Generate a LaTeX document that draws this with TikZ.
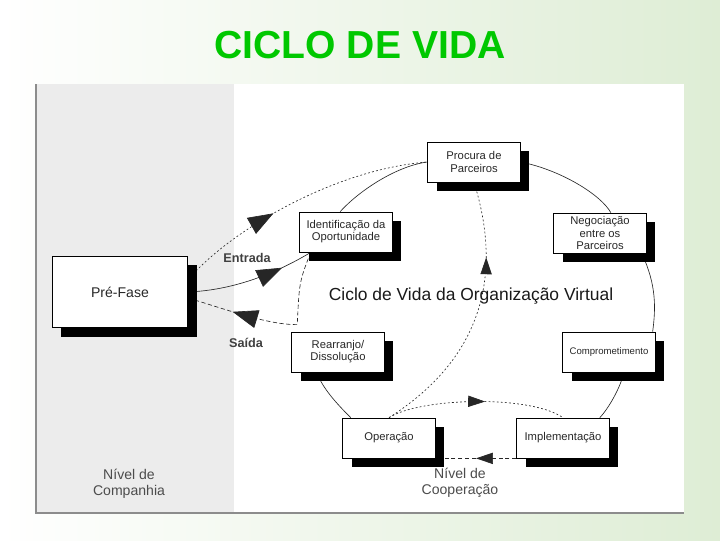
\documentclass[tikz,border=0pt]{standalone}
\usepackage{fontspec}
\setmainfont{Liberation Sans}
\usetikzlibrary{arrows.meta, decorations.markings, shadows, backgrounds}
\definecolor{ciclotitulo}{RGB}{0,200,0}
\definecolor{ciclofundo}{RGB}{222,237,213}
\definecolor{cicloempresa}{RGB}{236,236,236}
\definecolor{ciclotexto}{RGB}{40,40,40}

\begin{document}
\begin{tikzpicture}[x=0.025cm, y=-0.025cm,
        fase/.style={draw=black, fill=white, line width=0.5pt, minimum width=2.32cm, minimum height=1cm, inner sep=1pt, align=center, text=ciclotexto, font=\fontsize{8}{8.6}\selectfont, drop shadow={shadow xshift=6.4pt, shadow yshift=-6.4pt, fill=black, opacity=1}},
        ligacao/.style={line width=0.45pt, black!85},
        pontilhado/.style={dash pattern=on 1.3pt off 1.6pt},
        tracejado/.style={dash pattern=on 3pt off 1.8pt},
        seta/.style={postaction={decorate, decoration={markings, mark=at position #1 with {\arrow{Triangle[length=18pt, width=13pt]}}}}},
        setinha/.style={postaction={decorate, decoration={markings, mark=at position #1 with {\arrow{Triangle[length=12pt, width=8pt]}}}}},
        rotulo/.style={font=\fontsize{9}{10}\selectfont\bfseries, text=black!75},
        nivel/.style={font=\fontsize{10}{11.5}\selectfont, text=black!70, align=center}
    ]
        \useasboundingbox (0,0) rectangle (720,540);

        % fundo e moldura
        \begin{scope}[on background layer]
            \shade[left color=white, right color=ciclofundo] (0,0) rectangle (720,540);
            \fill[white] (36,84) rectangle (684,513);
            \fill[cicloempresa] (36,84) rectangle (234,513);
            \draw[black!45, line width=1.2pt] (36,84) -- (36,513) -- (684,513);
        \end{scope}

        \node[font=\fontsize{27.8}{30}\selectfont\bfseries, text=ciclotitulo] (titulo) at (360,45) {CICLO DE VIDA};

        % fases
        \node[fase] (procura) at (474,162) {Procura de\\Parceiros};
        \node[fase] (ident) at (346,232) {Identificação da\\Oportunidade};
        \node[fase] (negoc) at (600,233) {Negociação\\entre os\\Parceiros};
        \node[fase, minimum width=3.38cm, minimum height=1.78cm, font=\fontsize{10}{12}\selectfont] (prefase) at (120,292) {Pré-Fase};
        \node[fase] (rearr) at (338,352) {Rearranjo/\\Dissolução};
        \node[fase, font=\fontsize{6.8}{8}\selectfont] (compr) at (609,352) {Comprometimento};
        \node[fase] (oper) at (389,438) {Operação};
        \node[fase] (impl) at (563,438) {Implementação};
        \coordinate (canto) at ([shift={(6,-7)}]rearr.north west);

        % textos
        \node[font=\fontsize{12.4}{14}\selectfont, text=black!90] (cicloorg) at (471,296) {Ciclo de Vida da Organização Virtual};
        \node[rotulo] (entrada) at (247,258) {Entrada};
        \node[rotulo] (saida) at (246,343) {Saída};
        \node[nivel] (nivelcomp) at (129,484) {Nível de\\Companhia};
        \node[nivel] (nivelcoop) at (460,483) {Nível de\\Cooperação};

        \begin{scope}[on background layer]
            % ciclo
            \draw[ligacao] (procura.west) .. controls +(-30,4) and +(20,-22) .. (ident.106);
            \draw[ligacao] (procura.east) .. controls +(40,8) and +(-10,-18) .. (negoc.62);
            \draw[ligacao] (negoc.-26) .. controls +(15,32) and +(3,-23) .. (compr.25);
            \draw[ligacao] (compr.-54) .. controls +(-3,15) and +(8,-8) .. (impl.29);
            \draw[ligacao, tracejado, setinha=0.5] (impl.south west) -- (oper.south east);
            \draw[ligacao] (oper.152) .. controls +(-15,-15) and +(5,15) .. (rearr.-136);
            % atalhos
            \draw[ligacao, pontilhado, setinha=0.72] (oper.north) .. controls +(110,-70) and +(22,70) .. (procura.south);
            \draw[ligacao, pontilhado, setinha=0.55] (oper.north) .. controls +(31,-20) and +(-33,-23) .. (impl.north);
            % entrada e saida
            \draw[ligacao, pontilhado, seta=0.4] (prefase.10) .. controls +(37,-45) and +(-98,8) .. (procura.west);
            \draw[ligacao, seta=0.75] (prefase.east) .. controls +(50,-2) and +(-30,18) .. (ident.-150);
            \draw[ligacao, tracejado, seta=0.75] (ident.-150) .. controls +(-12,30) and +(2,-40) .. (canto) .. controls +(-30,0) and +(40,12) .. (prefase.-5);
        \end{scope}
\end{tikzpicture}
\end{document}
